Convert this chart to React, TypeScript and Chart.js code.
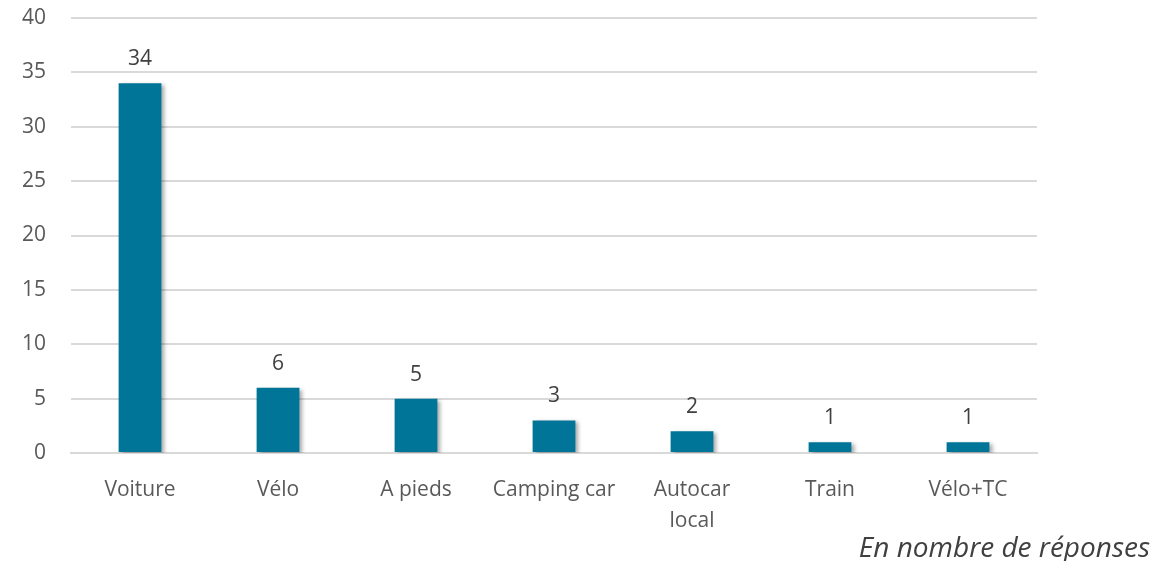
import React, { useEffect, useRef } from "react";
import { Chart, registerables } from "chart.js";

Chart.register(...registerables);

const categories: (string | string[])[] = ["Voiture", "Vélo", "A pieds", "Camping car", ["Autocar", "local"], "Train", "Vélo+TC"];
const responses: number[] = [34, 6, 5, 3, 2, 1, 1];
const yTicks: number[] = [0, 5, 10, 15, 20, 25, 30, 35, 40];
const footnote = "En nombre de réponses";

const FONT = "'Open Sans', 'Noto Sans', sans-serif";

const shadowPlugin = {
  id: "barShadow",
  beforeDatasetsDraw(chart: any) {
    const ctx = chart.ctx;
    ctx.save();
    ctx.shadowColor = "rgba(0,0,0,0.35)";
    ctx.shadowOffsetX = 3;
    ctx.shadowOffsetY = 2;
    ctx.shadowBlur = 4;
  },
  afterDatasetsDraw(chart: any) {
    chart.ctx.restore();
  },
};

const labelPlugin = {
  id: "valueLabels",
  afterDraw(chart: any) {
    const ctx = chart.ctx;
    const meta = chart.getDatasetMeta(0);
    ctx.save();
    ctx.font = `21px ${FONT}`;
    ctx.fillStyle = "#404040";
    ctx.textAlign = "center";
    ctx.textBaseline = "middle";
    meta.data.forEach((bar: any, i: number) => {
      ctx.fillText(String(responses[i]), bar.x, bar.y - 24);
    });
    ctx.font = `italic 28px ${FONT}`;
    ctx.textAlign = "right";
    ctx.textBaseline = "alphabetic";
    ctx.fillStyle = "#404040";
    ctx.fillText(footnote, 1150, 557);
    ctx.restore();
  },
};

export default function App() {
  const ref = useRef<HTMLCanvasElement>(null);
  useEffect(() => {
    document.body.style.margin = "0";
    const chart = new Chart(ref.current!, {
      type: "bar",
      data: {
        labels: categories,
        datasets: [
          {
            data: responses,
            backgroundColor: "#017598",
            borderWidth: 0,
            categoryPercentage: 1,
            barPercentage: 0.31,
          },
        ],
      },
      options: {
        animation: false,
        responsive: false,
        devicePixelRatio: 1,
        layout: { padding: { top: 18, right: 125, left: 0, bottom: 0 } },
        plugins: { legend: { display: false }, tooltip: { enabled: false } },
        scales: {
          x: {
            grid: { display: false, drawTicks: false },
            border: { display: true, color: "#d9d9d9", width: 2 },
            ticks: {
              color: "#595959",
              font: { family: FONT, size: 21, lineHeight: 1.45 },
              padding: 22,
              maxRotation: 0,
              autoSkip: false,
            },
            afterFit(scale: any) {
              scale.height = 561 - 453;
              scale.paddingLeft = 0;
              scale.paddingRight = 0;
            },
          },
          y: {
            min: 0,
            max: 40,
            afterBuildTicks(scale: any) {
              scale.ticks = yTicks.map((v) => ({ value: v }));
            },
            grid: { color: "#d9d9d9", lineWidth: 2, drawTicks: false },
            border: { display: false },
            ticks: {
              color: "#595959",
              font: { family: FONT, size: 21 },
              padding: 25,
            },
            afterFit(scale: any) {
              scale.width = 71;
              scale.paddingTop = 0;
              scale.paddingBottom = 0;
            },
          },
        },
      },
      plugins: [shadowPlugin, labelPlugin],
    });
    return () => chart.destroy();
  }, []);
  return (
    <div style={{ width: 1162, height: 561 }}>
      <canvas ref={ref} width={1162} height={561} style={{ display: "block" }} />
    </div>
  );
}
